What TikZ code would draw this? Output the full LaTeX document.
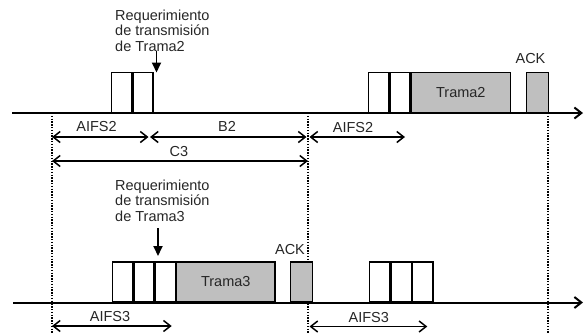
\documentclass[tikz,border=0pt]{standalone}
\usepackage{fontspec}
\setmainfont{Liberation Sans}
\usetikzlibrary{arrows.meta}
\begin{document}
\begin{tikzpicture}[x=1pt,y=-1pt,
  txt/.style={font=\fontsize{14.5}{15.5}\selectfont, text=black!85, inner sep=0},
  slot/.style={draw, line width=1.4pt, fill=white, minimum height=40pt, inner sep=0, anchor=south west,
    font=\fontsize{14.5}{15.5}\selectfont, text=black!85},
  frame/.style={slot, fill=black!25},
  dim/.style={line width=1.5pt, {Straight Barb[length=7pt,width=11pt]}-{Straight Barb[length=7pt,width=11pt]}},
  timeline/.style={line width=2pt, -{Straight Barb[length=7pt,width=11pt]}},
  guide/.style={line width=1.6pt, dash pattern=on 1.4pt off 1.4pt},
  req/.style={line width=1.8pt, -{Triangle[length=10pt,width=9pt]}}
]
\useasboundingbox (0,0) rectangle (584,333);

% guide coordinates
\coordinate (g1t) at (52,113);  \coordinate (g1b) at (52,333);
\coordinate (g2t) at (308,113); \coordinate (g2b) at (308,333);
\coordinate (g3t) at (548,113); \coordinate (g3b) at (548,333);
\draw[guide] (g1t) -- (g1b);
\draw[guide] (g2t) -- (g2b);
\draw[guide] (g3t) -- (g3b);

% timelines
\coordinate (t1s) at (12,113);  \coordinate (t1e) at (583,113);
\coordinate (t2s) at (13,302.5); \coordinate (t2e) at (583,302.5);
\draw[timeline] (t1s) -- (t1e);
\draw[timeline] (t2s) -- (t2e);

% top row boxes
\node[slot, minimum width=19.85pt] (a1) at (111,113) {};
\node[slot, minimum width=19.85pt] (a2) at (a1.south east) {};
\node[slot, minimum width=20pt] (b1) at (367.7,113) {};
\node[slot, minimum width=20pt] (b2) at (b1.south east) {};
\node[frame, minimum width=99.3pt] (tr2) at (b2.south east) {Trama2};
\node[frame, minimum width=22pt] (ack2) at (526,113) {};

% bottom row boxes
\node[slot, minimum width=20pt] (c1) at (111.7,302.5) {};
\node[slot, minimum width=20pt] (c2) at (c1.south east) {};
\node[slot, minimum width=20pt] (c3) at (c2.south east) {};
\node[frame, minimum width=98.3pt] (tr3) at (c3.south east) {Trama3};
\node[frame, minimum width=21.7pt] (ack3) at (290,302.5) {};
\node[slot, minimum width=20.1pt] (d1) at (369,302.5) {};
\node[slot, minimum width=20.1pt] (d2) at (d1.south east) {};
\node[slot, minimum width=20.1pt] (d3) at (d2.south east) {};

% requirement texts and arrows
\node[txt, align=left, anchor=north west] (rq2) at (115,9.6) {Requerimiento\\de transmisión\\de Trama2};
\node[txt, align=left, anchor=north west] (rq3) at (115,179.6) {Requerimiento\\de transmisión\\de Trama3};
\coordinate (r2s) at (156.5,51); \coordinate (r2e) at (156.5,72.5);
\coordinate (r3s) at (158,228);  \coordinate (r3e) at (158,256);
\draw[req] (r2s) -- (r2e);
\draw[req] (r3s) -- (r3e);

% ACK labels
\node[txt, anchor=base] (lack2) at (530.5,63.5) {ACK};
\node[txt, anchor=base] (lack3) at (290,254) {ACK};

% dimension arrows, top
\coordinate (p1) at (52,137);  \coordinate (p2) at (148.5,137);
\coordinate (p3) at (150,137); \coordinate (p4) at (306.5,137);
\coordinate (p5) at (309.5,137); \coordinate (p6) at (405,137);
\coordinate (p7) at (52,161); \coordinate (p8) at (308,161);
\draw[dim] (p1) -- (p2);
\draw[dim] (p3) -- (p4);
\draw[dim] (p5) -- (p6);
\draw[dim] (p7) -- (p8);
\node[txt, anchor=base] (laifs2a) at (96.5,131) {AIFS2};
\node[txt, anchor=base] (lb2) at (227,131) {B2};
\node[txt, anchor=base] (laifs2b) at (353,132) {AIFS2};
\node[txt, anchor=base] (lc3) at (179,156) {C3};

% dimension arrows, bottom
\coordinate (q1) at (52,326);  \coordinate (q2) at (171.7,326);
\coordinate (q3) at (309.5,326.5); \coordinate (q4) at (427.3,326.5);
\draw[dim] (q1) -- (q2);
\draw[dim] (q3) -- (q4);
\node[txt, anchor=base] (laifs3a) at (110,321.5) {AIFS3};
\node[txt, anchor=base] (laifs3b) at (368.8,322.5) {AIFS3};
\end{tikzpicture}
\end{document}
